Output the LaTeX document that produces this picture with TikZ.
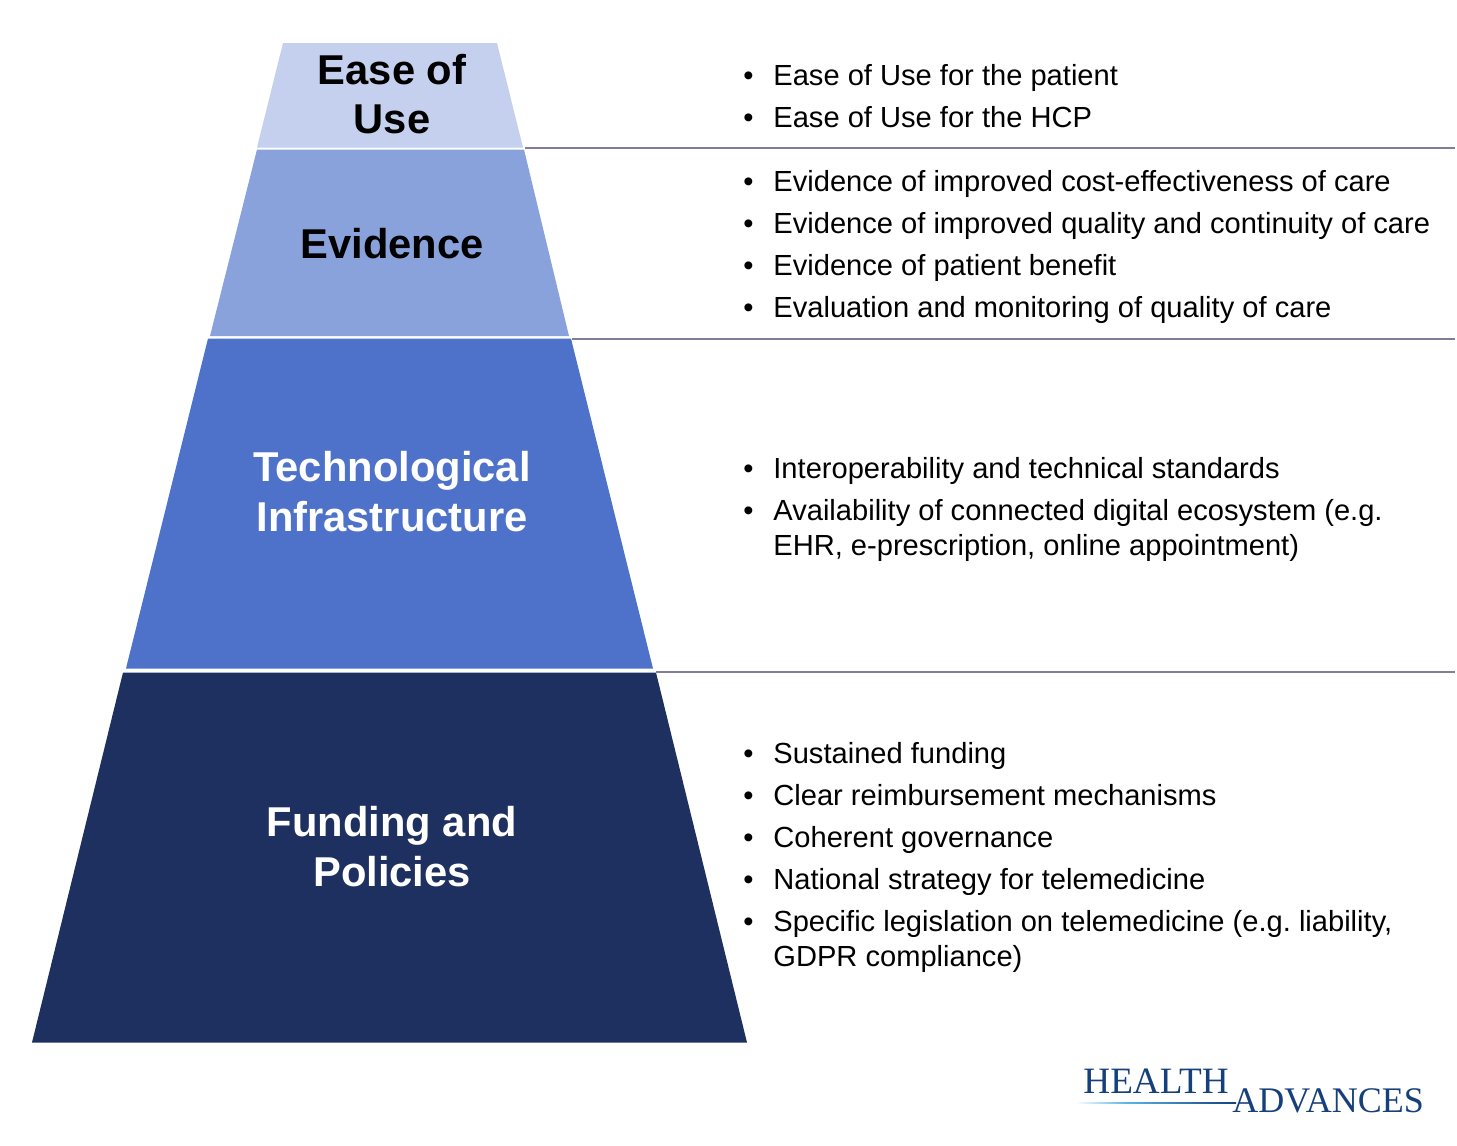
\documentclass[tikz,border=0pt]{standalone}
\usepackage{fontspec}
\setmainfont{Liberation Sans}
\newfontfamily\logofont{Liberation Serif}
\usetikzlibrary{calc}
\definecolor{myease}{RGB}{197,208,238}
\definecolor{myevidence}{RGB}{138,162,219}
\definecolor{mytech}{RGB}{78,114,201}
\definecolor{myfunding}{RGB}{29,48,95}
\definecolor{myrule}{RGB}{126,126,152}
\definecolor{mylogo}{RGB}{22,64,124}
\definecolor{myswoosh}{RGB}{90,180,230}
\frenchspacing
\tikzset{
    layer/.style={font=\fontsize{20.85}{24.8}\selectfont\bfseries, align=center, inner sep=0},
    itemline/.style={font=\fontsize{14.55}{17.5}\selectfont, anchor=base west, inner sep=0},
    item/.style={itemline,
        label={[font=\fontsize{14.55}{17.5}\selectfont, inner sep=0, anchor=base east, xshift=-9.5pt]base west:\textbullet}},
    rule/.style={draw=myrule, line width=1pt},
    logo/.style={font=\logofont\selectfont, text=mylogo, anchor=base west, inner sep=0}
}
\begin{document}
\begin{tikzpicture}[x=0.5pt, y=-0.5pt]
\useasboundingbox (0,0) rectangle (1457,1146);

%%% pyramid
\fill[myease] (283,43) -- (497,43) -- (523,147.5) -- (257,147.5) -- cycle;
\fill[myevidence] (257,149.5) -- (524,149.5) -- (569,336) -- (210,336) -- cycle;
\fill[mytech] (208,338.5) -- (571,338.5) -- (653,668.5) -- (126,668.5) -- cycle;
\fill[myfunding] (123,672.5) -- (656,672.5) -- (747,1042.5) -- (32,1042.5) -- cycle;

\node[layer] (ease) at (392,94) {Ease of\\Use};
\node[layer] (evidence) at (392,243.5) {Evidence};
\node[layer, text=white] (tech) at (392,491.5) {Technological\\Infrastructure};
\node[layer, text=white] (funding) at (392,846.5) {Funding and\\Policies};

%%% rules
\coordinate (r1a) at (525,148);
\coordinate (r1b) at (1455,148);
\coordinate (r2a) at (572,339);
\coordinate (r2b) at (1455,339);
\coordinate (r3a) at (656,672);
\coordinate (r3b) at (1455,672);
\draw[rule] (r1a) -- (r1b);
\draw[rule] (r2a) -- (r2b);
\draw[rule] (r3a) -- (r3b);

%%% bullets
\node[item] (i1) at (773,85.5) {Ease of Use for the patient};
\node[item] (i2) at (773,127.5) {Ease of Use for the HCP};

\node[item] (i3) at (773,191.5) {Evidence of improved cost-effectiveness of care};
\node[item] (i4) at (773,233.5) {Evidence of improved quality and continuity of care};
\node[item] (i5) at (773,275.5) {Evidence of patient benefit};
\node[item] (i6) at (773,317.5) {Evaluation and monitoring of quality of care};

\node[item] (i7) at (773,478.5) {Interoperability and technical standards};
\node[item] (i8) at (773,520.5) {Availability of connected digital ecosystem (e.g.};
\node[itemline] (i8b) at (773,555.5) {EHR, e-prescription, online appointment)};

\node[item] (i9) at (773,763.5) {Sustained funding};
\node[item] (i10) at (773,805.5) {Clear reimbursement mechanisms};
\node[item] (i11) at (773,847.5) {Coherent governance};
\node[item] (i12) at (773,889.5) {National strategy for telemedicine};
\node[item] (i13) at (773,931.5) {Specific legislation on telemedicine (e.g. liability,};
\node[itemline] (i13b) at (773,966.5) {GDPR compliance)};

%%% logo
\shade[left color=white, right color=myswoosh] (1075,1102.7) rectangle (1127,1103.9);
\shade[left color=myswoosh, right color=mylogo] (1127,1102.7) rectangle (1236,1103.9);
\node[logo, font=\logofont\fontsize{18.6}{20}\selectfont] (health) at (1083,1093) {HEALTH};
\node[logo, font=\logofont\fontsize{18}{20}\selectfont] (advances) at (1232,1112) {ADVANCES};

\end{tikzpicture}
\end{document}
